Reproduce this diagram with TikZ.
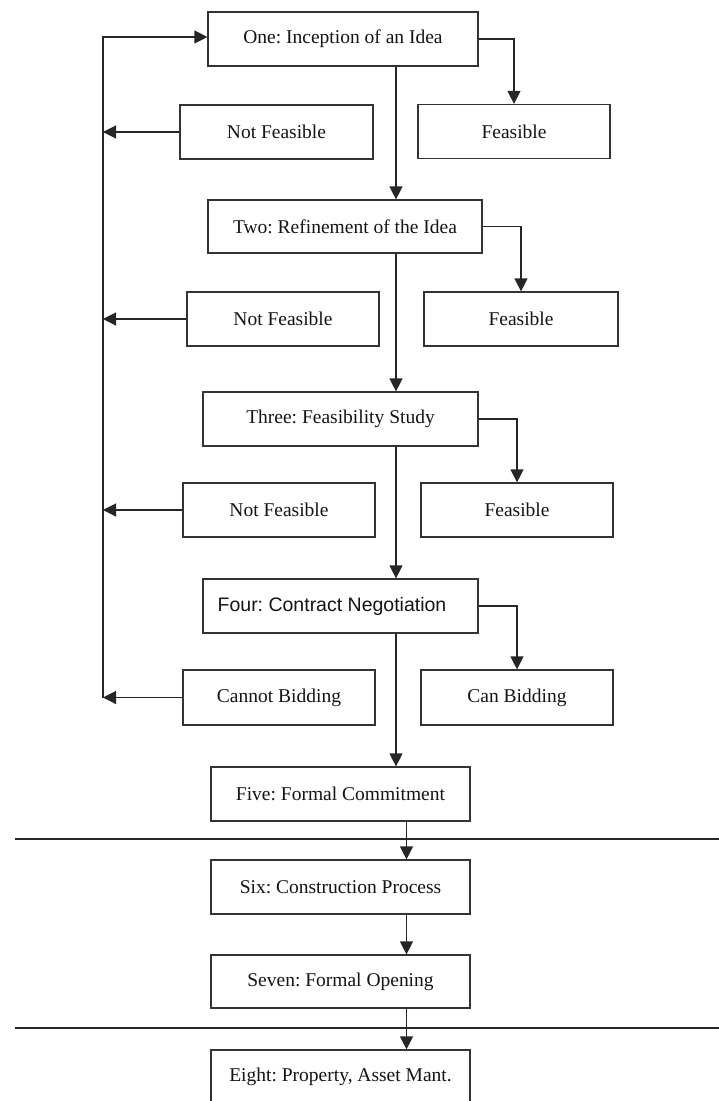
\documentclass[tikz,border=0pt]{standalone}
\usepackage{fontspec}
\setmainfont{Liberation Serif}
\newfontfamily\plainsans{Liberation Sans}
\usetikzlibrary{arrows.meta}
\definecolor{boxline}{HTML}{333333}
\definecolor{linecol}{HTML}{262626}
\definecolor{ink}{HTML}{141414}
\frenchspacing
\begin{document}
\begin{tikzpicture}[x=1pt,y=-1pt,
  stage/.style={draw=boxline, fill=white, line width=1.2pt, inner sep=0pt,
    minimum height=54pt, text=ink, font=\fontsize{19.5}{23}\selectfont},
  flow/.style={draw=linecol, line width=1.2pt, -{Triangle[length=13pt,width=13pt]}},
  phaserule/.style={draw=linecol, line width=1.2pt}]
\useasboundingbox (0,0) rectangle (719,1101);
\clip (0,0) rectangle (719,1101);

% stage boxes
\node[stage, minimum width=270pt] (one) at (343,39) {One: Inception of an Idea};
\node[stage, minimum width=193pt] (nf1) at (276.5,132) {Not Feasible};
\node[stage, minimum width=192pt] (f1) at (514,131.5) {Feasible};

\node[stage, minimum width=274pt, minimum height=53pt] (two) at (345,226.5) {Two: Refinement of the Idea};
\node[stage, minimum width=192pt] (nf2) at (283,319) {Not Feasible};
\node[stage, minimum width=194pt] (f2) at (521,319) {Feasible};

\node[stage, minimum width=275pt] (three) at (340.5,419) {Three: Feasibility Study};
\node[stage, minimum width=192pt] (nf3) at (279,510) {Not Feasible};
\node[stage, minimum width=192pt] (f3) at (517,510) {Feasible};

\node[stage, minimum width=275pt, font=\plainsans\fontsize{19.5}{23}\selectfont] (four) at (340.5,606) {\hspace*{-17pt}Four: Contract Negotiation};
\node[stage, minimum width=192pt, minimum height=55pt] (cnb) at (279,697.5) {Cannot Bidding};
\node[stage, minimum width=192pt, minimum height=55pt] (cb) at (517,697.5) {Can Bidding};

\node[stage, minimum width=259pt] (five) at (340.5,794) {Five: Formal Commitment};
\node[stage, minimum width=259pt] (six) at (340.5,887) {Six: Construction Process};
\node[stage, minimum width=259pt, minimum height=53pt] (seven) at (340.5,981.5) {Seven: Formal Opening};
\node[stage, minimum width=259pt] (eight) at (340.5,1077) {Eight: Property, Asset Mant.};

% guide coordinates for the vertical runs
\coordinate (trunk) at (396,0);
\coordinate (lowtrunk) at (406.5,0);
\coordinate (loop) at (103,0);

% main downward flow
\draw[flow] (one.south -| trunk) -- (two.north -| trunk);
\draw[flow] (two.south -| trunk) -- (three.north -| trunk);
\draw[flow] (three.south -| trunk) -- (four.north -| trunk);
\draw[flow] (four.south -| trunk) -- (five.north -| trunk);
\draw[flow] (five.south -| lowtrunk) -- (six.north -| lowtrunk);
\draw[flow] (six.south -| lowtrunk) -- (seven.north -| lowtrunk);
\draw[flow] (seven.south -| lowtrunk) -- (eight.north -| lowtrunk);

% feasible branches
\draw[flow] (one.east) -| (f1.north);
\draw[flow] (two.east) -| (f2.north);
\draw[flow] (three.east) -| (f3.north);
\draw[flow] (four.east) -| (cb.north);

% not feasible branches back to the loop line
\draw[flow] (nf1.west) -- (nf1.west -| loop);
\draw[flow] (nf2.west) -- (nf2.west -| loop);
\draw[flow] (nf3.west) -- (nf3.west -| loop);
\draw[flow] (cnb.west) -- (cnb.west -| loop);
\draw[flow] (cnb.west -| loop) -- ([yshift=2pt]one.west -| loop) -- ([yshift=2pt]one.west);

% phase separators
\coordinate (ruleAl) at (15,839);
\coordinate (ruleAr) at (719,839);
\coordinate (ruleBl) at (15,1028);
\coordinate (ruleBr) at (719,1028);
\draw[phaserule] (ruleAl) -- (ruleAr);
\draw[phaserule] (ruleBl) -- (ruleBr);
\end{tikzpicture}
\end{document}
